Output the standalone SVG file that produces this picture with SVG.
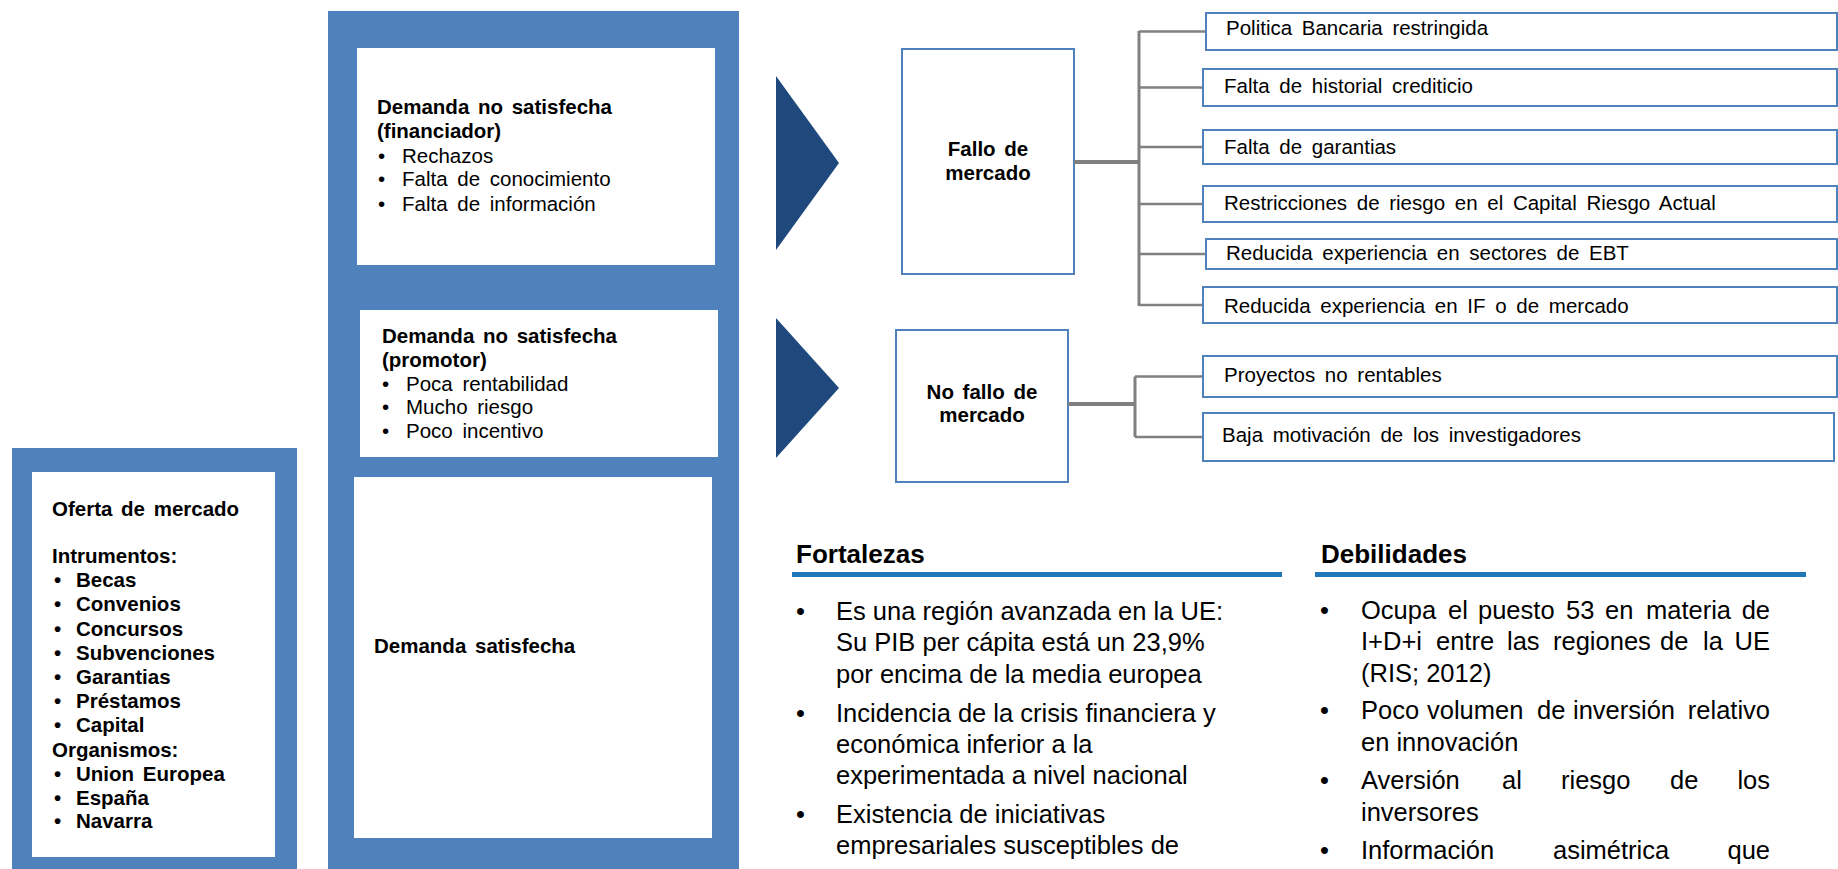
<svg xmlns="http://www.w3.org/2000/svg" width="1838" height="869" viewBox="0 0 1838 869">
<style>
text{font-family:"Liberation Sans",Arial,sans-serif;fill:#000}
.frame{fill:#4f81bd}
.white{fill:#fff}
.tri{fill:#1f497d}
.nbox{fill:#fff;stroke:#4f81bd;stroke-width:2}
.b{font-weight:bold;font-size:20.5px;word-spacing:3px}
.r{font-size:20.5px;word-spacing:4px}
.bl{font-size:25.5px;fill:#111}
.h{font-weight:bold;font-size:26px}
.conn{stroke:#808080;fill:none}
.rule{stroke:#1f77b9;stroke-width:5}
</style>
<rect width="1838" height="869" fill="#fff"/>

<g id="oferta">
<rect class="frame" x="12" y="448" width="285" height="430"/>
<rect class="white" x="32" y="472" width="243" height="385"/>
<text class="b" x="52" y="516">Oferta de mercado</text>
<text class="b" x="52" y="563">Intrumentos:</text>
<g class="b">
<text x="54" y="587">•</text><text x="76" y="587">Becas</text>
<text x="54" y="611">•</text><text x="76" y="611">Convenios</text>
<text x="54" y="636">•</text><text x="76" y="636">Concursos</text>
<text x="54" y="660">•</text><text x="76" y="660">Subvenciones</text>
<text x="54" y="684">•</text><text x="76" y="684">Garantias</text>
<text x="54" y="708">•</text><text x="76" y="708">Préstamos</text>
<text x="54" y="732">•</text><text x="76" y="732">Capital</text>
</g>
<text class="b" x="52" y="757">Organismos:</text>
<g class="b">
<text x="54" y="781">•</text><text x="76" y="781">Union Europea</text>
<text x="54" y="805">•</text><text x="76" y="805">España</text>
<text x="54" y="828">•</text><text x="76" y="828">Navarra</text>
</g>
</g>

<g id="demanda">
<rect class="frame" x="328" y="11" width="411" height="870"/>
<g id="demanda-financiador">
<rect class="white" x="357" y="48" width="358" height="217"/>
<text class="b" x="377" y="114">Demanda  no satisfecha</text>
<text class="b" x="377" y="138">(financiador)</text>
<text class="r" x="378" y="163">•</text><text class="r" x="402" y="163">Rechazos</text>
<text class="r" x="378" y="186">•</text><text class="r" x="402" y="186">Falta de conocimiento</text>
<text class="r" x="378" y="211">•</text><text class="r" x="402" y="211">Falta de información</text>
</g>
<g id="demanda-promotor">
<rect class="white" x="360" y="310" width="358" height="147"/>
<text class="b" x="382" y="343">Demanda  no satisfecha</text>
<text class="b" x="382" y="367">(promotor)</text>
<text class="r" x="382" y="391">•</text><text class="r" x="406" y="391">Poca rentabilidad</text>
<text class="r" x="382" y="414">•</text><text class="r" x="406" y="414">Mucho riesgo</text>
<text class="r" x="382" y="438">•</text><text class="r" x="406" y="438">Poco incentivo</text>
</g>
<g id="demanda-satisfecha">
<rect class="white" x="354" y="477" width="358" height="361"/>
<text class="b" x="374" y="653">Demanda  satisfecha</text>
</g>
</g>

<g id="arrows">
<polygon class="tri" points="776,76 839,163 776,250"/>
<polygon class="tri" points="776,318 839,388 776,458"/>
</g>

<g id="fallo">
<rect class="nbox" x="902" y="49" width="172" height="225"/>
<text class="b" x="988" y="156" text-anchor="middle">Fallo de</text>
<text class="b" x="988" y="180" text-anchor="middle">mercado</text>
</g>
<g id="nofallo">
<rect class="nbox" x="896" y="330" width="172" height="152"/>
<text class="b" x="982" y="399" text-anchor="middle">No fallo de</text>
<text class="b" x="982" y="422" text-anchor="middle">mercado</text>
</g>

<g id="connectors">
<path class="conn" stroke-width="4" d="M1074,162H1139"/>
<path class="conn" stroke-width="3" d="M1139,31V306"/>
<path class="conn" stroke-width="2.5" d="M1139,31.5H1206M1139,87.5H1203M1139,147H1203M1139,204H1203M1139,254H1206M1139,305H1203"/>
<path class="conn" stroke-width="4" d="M1068,404H1135"/>
<path class="conn" stroke-width="3" d="M1135,376.5V437"/>
<path class="conn" stroke-width="2.5" d="M1135,376.5H1203M1135,437H1203"/>
</g>

<g id="item1"><rect class="nbox" x="1206" y="13" width="631" height="37"/><text class="r" x="1226" y="35">Politica Bancaria  restringida</text></g>
<g id="item2"><rect class="nbox" x="1203" y="69" width="634" height="37"/><text class="r" x="1224" y="93">Falta de historial crediticio</text></g>
<g id="item3"><rect class="nbox" x="1203" y="130" width="634" height="34"/><text class="r" x="1224" y="154">Falta de garantias</text></g>
<g id="item4"><rect class="nbox" x="1203" y="186" width="634" height="36"/><text class="r" x="1224" y="210">Restricciones de riesgo en el Capital Riesgo Actual</text></g>
<g id="item5"><rect class="nbox" x="1206" y="239" width="631" height="30"/><text class="r" x="1226" y="260">Reducida  experiencia  en sectores  de EBT</text></g>
<g id="item6"><rect class="nbox" x="1203" y="287" width="634" height="36"/><text class="r" x="1224" y="313">Reducida  experiencia  en IF o de mercado</text></g>
<g id="item7"><rect class="nbox" x="1203" y="356" width="634" height="41"/><text class="r" x="1224" y="382">Proyectos  no rentables</text></g>
<g id="item8"><rect class="nbox" x="1203" y="413" width="631" height="48"/><text class="r" x="1222" y="442">Baja motivación de los investigadores</text></g>

<g id="fortalezas">
<text class="h" x="796" y="563">Fortalezas</text>
<line class="rule" x1="792" y1="574.5" x2="1282" y2="574.5"/>
<g class="bl">
<text x="796" y="620">•</text><text x="836" y="620">Es una región avanzada en la UE:</text>
<text x="836" y="651">Su PIB per cápita está un 23,9%</text>
<text x="836" y="683">por encima de la media europea</text>
<text x="796" y="722">•</text><text x="836" y="722">Incidencia de la crisis financiera y</text>
<text x="836" y="753">económica inferior a la</text>
<text x="836" y="784">experimentada a nivel nacional</text>
<text x="796" y="823">•</text><text x="836" y="823">Existencia de iniciativas</text>
<text x="836" y="854">empresariales susceptibles de</text>
</g>
</g>

<g id="debilidades">
<text class="h" x="1321" y="563">Debilidades</text>
<line class="rule" x1="1315" y1="574.5" x2="1806" y2="574.5"/>
<g class="bl">
<text x="1320" y="619">•</text>
<text y="619"><tspan x="1361">Ocupa</tspan><tspan x="1448">el</tspan><tspan x="1478">puesto</tspan><tspan x="1566">53</tspan><tspan x="1605">en</tspan><tspan x="1646">materia</tspan><tspan x="1770" text-anchor="end">de</tspan></text>
<text y="650"><tspan x="1361">I+D+i</tspan><tspan x="1436">entre</tspan><tspan x="1507">las</tspan><tspan x="1553">regiones</tspan><tspan x="1660">de</tspan><tspan x="1703">la</tspan><tspan x="1770" text-anchor="end">UE</tspan></text>
<text x="1361" y="682">(RIS; 2012)</text>
<text x="1320" y="719">•</text>
<text y="719"><tspan x="1361">Poco</tspan><tspan x="1427">volumen</tspan><tspan x="1537">de</tspan><tspan x="1573">inversión</tspan><tspan x="1770" text-anchor="end">relativo</tspan></text>
<text x="1361" y="751">en innovación</text>
<text x="1320" y="789">•</text>
<text y="789"><tspan x="1361">Aversión</tspan><tspan x="1502">al</tspan><tspan x="1561">riesgo</tspan><tspan x="1670">de</tspan><tspan x="1770" text-anchor="end">los</tspan></text>
<text x="1361" y="821">inversores</text>
<text x="1320" y="859">•</text>
<text y="859"><tspan x="1361">Información</tspan><tspan x="1553">asimétrica</tspan><tspan x="1770" text-anchor="end">que</tspan></text>
</g>
</g>
</svg>
